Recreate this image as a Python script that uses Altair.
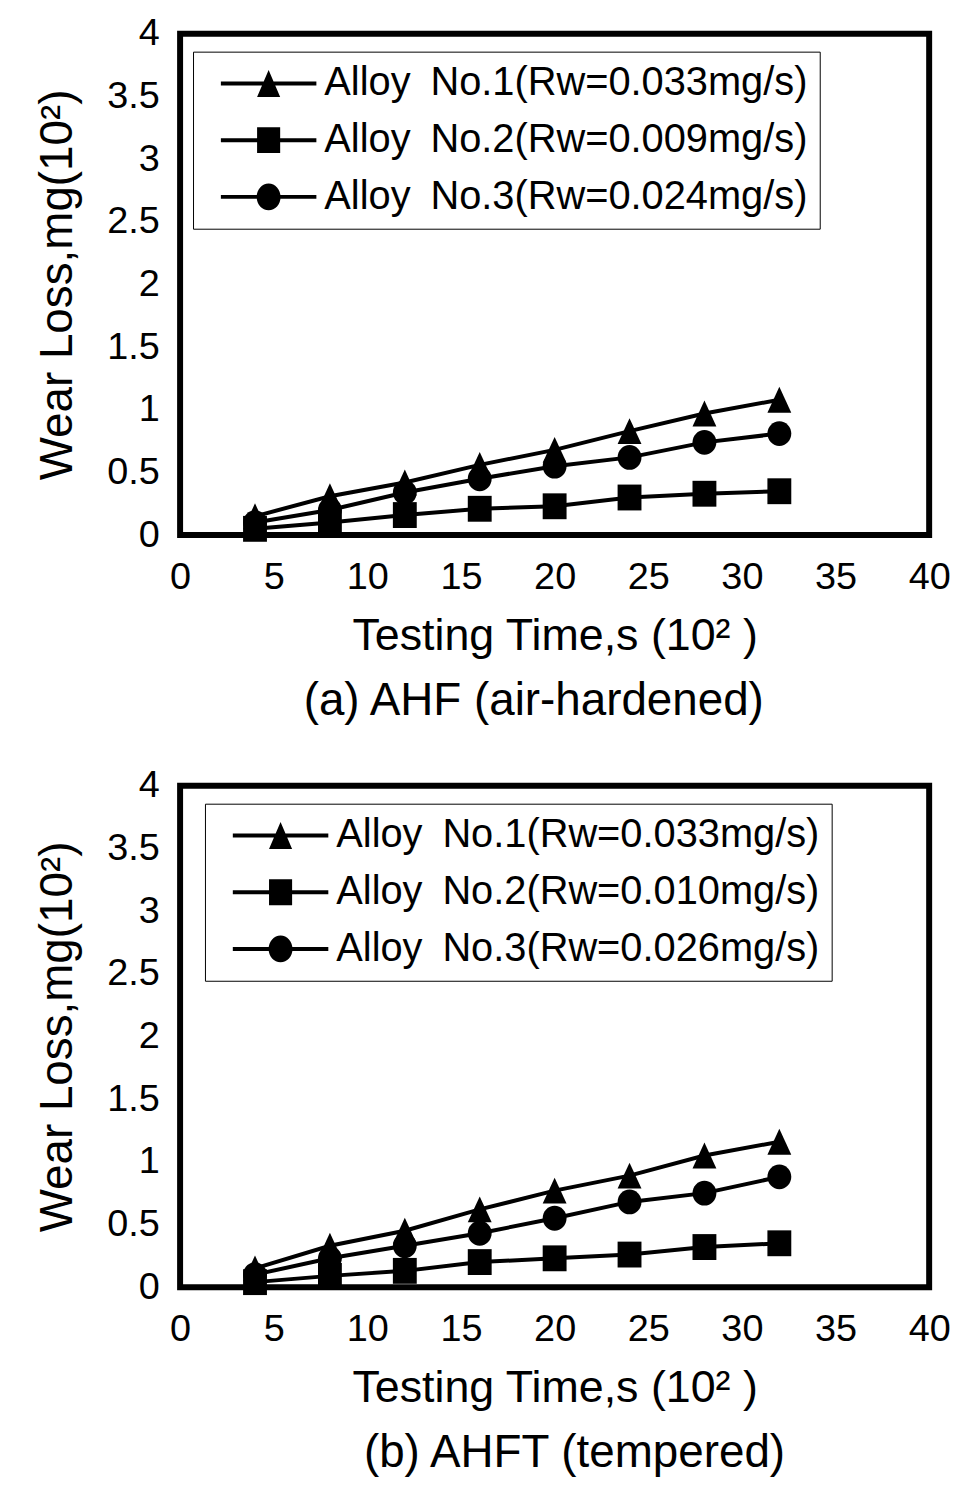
import altair as alt
import pandas as pd

# Testing time (10^2 s)
time_x = [4, 8, 12, 16, 20, 24, 28, 32]

# (a) AHF air-hardened, wear loss (10^2 mg)
ahf_no1 = [0.15, 0.31, 0.42, 0.56, 0.68, 0.83, 0.97, 1.08]
ahf_no2 = [0.05, 0.10, 0.16, 0.21, 0.23, 0.30, 0.33, 0.35]
ahf_no3 = [0.10, 0.20, 0.34, 0.45, 0.55, 0.62, 0.74, 0.81]

# (b) AHFT tempered
ahft_no1 = [0.15, 0.33, 0.45, 0.62, 0.77, 0.89, 1.05, 1.16]
ahft_no2 = [0.04, 0.09, 0.13, 0.20, 0.23, 0.26, 0.32, 0.35]
ahft_no3 = [0.10, 0.23, 0.33, 0.43, 0.55, 0.68, 0.75, 0.88]

labels_a = ["Alloy\u2002No.1(Rw=0.033mg/s)",
            "Alloy\u2002No.2(Rw=0.009mg/s)",
            "Alloy\u2002No.3(Rw=0.024mg/s)"]
labels_b = ["Alloy\u2002No.1(Rw=0.033mg/s)",
            "Alloy\u2002No.2(Rw=0.010mg/s)",
            "Alloy\u2002No.3(Rw=0.026mg/s)"]

x_ticks = [0, 5, 10, 15, 20, 25, 30, 35, 40]
y_ticks = [0, 0.5, 1, 1.5, 2, 2.5, 3, 3.5, 4]

x_title = "Testing Time,s (10\u00b2 )"
y_title = "Wear Loss,mg(10\u00b2)"
caption_a = "(a) AHF (air-hardened)"
caption_b = "(b) AHFT (tempered)"

FONT = "Liberation Sans"

# marker shapes in the plot
PLOT_PATHS = [
    "M0,-1.3L1.2,1.3L-1.2,1.3Z",
    "M-1.2,-1.3H1.2V1.3H-1.2Z",
    "M1.2,0A1.2,1.25,0,1,1,-1.2,0A1.2,1.25,0,1,1,1.2,0Z",
]
# legend symbols: line stub + marker
STUB = "M-2.4,-0.1H2.4V0.1H-2.4Z"
LEG_PATHS = [
    STUB + "M0,-0.68L0.58,0.68L-0.58,0.68Z",
    STUB + "M-0.58,-0.65H0.58V0.65H-0.58Z",
    STUB + "M0.6,0A0.6,0.67,0,1,1,-0.6,0A0.6,0.67,0,1,1,0.6,0Z",
]


def panel(series, labels, caption, cap_dx, lx, ly):
    rows = []
    for lab, ys in zip(labels, series):
        for t, w in zip(time_x, ys):
            rows.append({"t": t, "w": w, "s": lab})
    df = pd.DataFrame(rows)
    base = alt.Chart(df).encode(
        x=alt.X("t:Q", scale=alt.Scale(domain=[0, 40], nice=False),
                axis=alt.Axis(values=x_ticks, title=x_title,
                              labelPadding=24, titlePadding=17,
                              labelFlush=False, titleFontSize=45)),
        y=alt.Y("w:Q", scale=alt.Scale(domain=[0, 4], nice=False),
                axis=alt.Axis(values=y_ticks, format="~g", title=y_title,
                              labelPadding=21, titlePadding=25,
                              titleFontSize=46)),
    )
    lines = base.mark_line(color="black", strokeWidth=4).encode(detail="s:N")
    pts = base.mark_point(filled=True, color="black", opacity=1, size=400).encode(
        shape=alt.Shape("s:N", scale=alt.Scale(domain=labels, range=PLOT_PATHS),
                        legend=None))
    leg = base.mark_point(filled=True, color="black", opacity=0, size=1600).encode(
        shape=alt.Shape("s:N", scale=alt.Scale(domain=labels, range=LEG_PATHS),
                        legend=alt.Legend(title=None, orient="none",
                                          legendX=lx, legendY=ly,
                                          labelFont=FONT, labelFontSize=40,
                                          labelColor="black", labelLimit=1000,
                                          symbolSize=1600, symbolOpacity=1,
                                          symbolFillColor="black",
                                          symbolStrokeWidth=0,
                                          symbolOffset=44, labelOffset=36,
                                          padding=12, rowPadding=17,
                                          strokeColor="black",
                                          fillColor="white",
                                          cornerRadius=0)))
    return alt.layer(lines, pts, leg).resolve_scale(shape="independent").properties(
        width=753, height=504,
        title=alt.TitleParams(caption, orient="bottom", anchor="middle",
                              frame="group", dx=cap_dx, offset=21,
                              font=FONT, fontSize=46, fontWeight="normal",
                              color="black"))


top = panel([ahf_no1, ahf_no2, ahf_no3], labels_a, caption_a, -21, 13, 18)
bottom = panel([ahft_no1, ahft_no2, ahft_no3], labels_b, caption_b, 20, 25, 18)

chart = alt.vconcat(top, bottom, spacing=37).resolve_scale(
    shape="independent").resolve_legend(shape="independent").properties(
    padding={"left": 24, "top": 0, "right": 5, "bottom": 0},
    background="white",
).configure_view(
    stroke="black", strokeWidth=6
).configure_axis(
    grid=False, ticks=False, domain=False,
    labelFont=FONT, labelFontSize=38, labelColor="black",
    titleFont=FONT, titleFontWeight="normal", titleColor="black",
)

chart.save("out.html", embed_options={"renderer": "svg", "actions": False})
